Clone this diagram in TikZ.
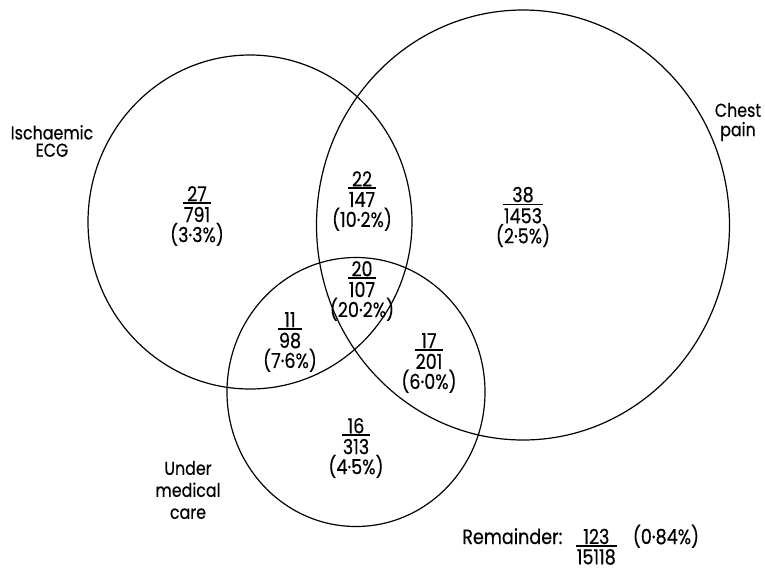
\documentclass[tikz,border=0pt]{standalone}
\usepackage{fontspec}
\setmainfont{Poppins}[FakeStretch=0.85,FakeBold=0.4]
\usetikzlibrary{shapes.geometric}
% fraction: baseline at denominator
\newcommand{\fr}[2]{\vbox{\offinterlineskip\halign{\hfil\kern0.8pt##\kern0.8pt\hfil\cr #1\cr\noalign{\kern0.8pt\hrule height 1pt\kern2.4pt}#2\cr}}}
% fraction: baseline at numerator
\newcommand{\frt}[2]{\vtop{\offinterlineskip\halign{\hfil\kern0.8pt##\kern0.8pt\hfil\cr #1\cr\noalign{\kern0.8pt\hrule height 1pt\kern2pt}#2\cr}}}
\begin{document}
\begin{tikzpicture}[x=0.75pt,y=-0.75pt,
  setc/.style={draw, ellipse, line width=0.9pt, inner sep=0pt, outer sep=0pt},
  lbl/.style={align=center, font=\fontsize{14}{13}\selectfont, inner sep=0pt},
  val/.style={align=center, font=\fontsize{15.5}{15}\selectfont, inner sep=0pt}]
\useasboundingbox (0,0) rectangle (765,572);
% sets
\node[setc, minimum width=243pt, minimum height=250.5pt] (ecg) at (250,222) {};
\node[setc, minimum width=309.75pt, minimum height=322.5pt] (chest) at (523,225) {};
\node[setc, minimum width=193.5pt, minimum height=201.75pt] (care) at (356,392) {};
% labels
\node[lbl] (ecglbl) at (52,141) {Ischaemic\\ECG};
\node[lbl, font=\fontsize{14}{14.5}\selectfont] (chestlbl) at (738,122) {Chest\\pain};
\node[lbl, font=\fontsize{14}{16.5}\selectfont] (carelbl) at (188,490) {Under\\medical\\care};
% regions
\node[val] (r1) at (197,216) {\fr{27}{791}\\(3·3\%)};
\node[val] (r2) at (362,201) {\fr{22}{147}\\(10·2\%)};
\node[val] (r3) at (362,291) {\fr{20}{107}\\(20·2\%)};
\node[val] (r4) at (523,217) {\fr{38}{1453}\\(2·5\%)};
\node[val] (r5) at (290,342) {\fr{11}{98}\\(7·6\%)};
\node[val] (r6) at (429,363) {\fr{17}{201}\\(6·0\%)};
\node[val] (r7) at (356,448) {\fr{16}{313}\\(4·5\%)};
% remainder
\node[val, anchor=base west] (rem) at (462,544) {Remainder:\hspace{10pt}\frt{123}{15118}\hspace{12pt}(0·84\%)};
\end{tikzpicture}
\end{document}
